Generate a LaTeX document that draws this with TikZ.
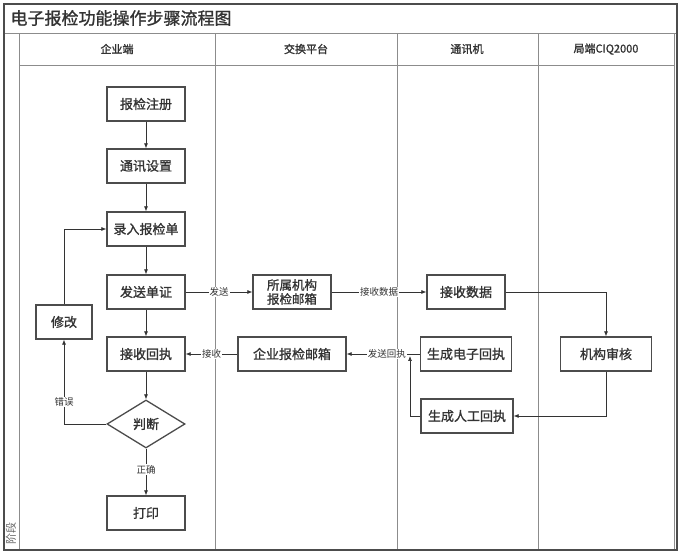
\documentclass[tikz,border=0pt]{standalone}
\usepackage{fontspec}
\setmainfont{Noto Sans CJK SC}[AutoFakeBold=1.2]
\usetikzlibrary{arrows.meta,shapes.geometric}
\tikzset{
    paso/.style={draw=black!70, line width=1.3pt, minimum width=78pt, minimum height=34pt,
        inner sep=1pt, align=center, font=\fontsize{13}{14}\selectfont\bfseries, text=black!80},
    decision/.style={diamond, draw=black!70, line width=1.3pt, minimum width=78pt,
        minimum height=48pt, inner sep=0pt, font=\fontsize{13}{14}\selectfont\bfseries, text=black!80},
    flecha/.style={draw=black!80, line width=0.7pt, -{Latex[length=5pt,width=4pt]}},
    etiqueta/.style={fill=white, inner sep=1pt, font=\fontsize{9.5}{10}\selectfont, text=black!80},
    cabecera/.style={font=\fontsize{11}{12}\selectfont\bfseries, text=black!80},
    carril/.style={draw=black!45, line width=1pt}
}
\begin{document}
\begin{tikzpicture}[x=1pt, y=-1pt]
    \useasboundingbox[fill=white] (0,0) rectangle (681,556);
    % Marco y carriles
    \draw[carril] (19,34) -- (19,549);
    \draw[carril] (215,34) -- (215,549);
    \draw[carril] (397,34) -- (397,549);
    \draw[carril] (538,34) -- (538,549);
    \draw[carril] (674,34) -- (674,549);
    \draw[carril] (4,34) -- (677,34);
    \draw[carril] (19,66) -- (674,66);
    \draw[draw=black!70, line width=1.5pt] (4,4) rectangle (677,550);
    % Titulo y cabeceras
    \node[anchor=west, font=\fontsize{17}{18}\selectfont\bfseries, text=black!80] (titulo) at (7,18) {电子报检功能操作步骤流程图};
    \node[cabecera] (cab1) at (117,49) {企业端};
    \node[cabecera] (cab2) at (306,49) {交换平台};
    \node[cabecera] (cab3) at (467,49) {通讯机};
    \node[cabecera] (cab4) at (606,49) {局端CIQ2000};
    \node[rotate=90, anchor=west, font=\fontsize{11}{12}\selectfont, text=black!60] (fase) at (11,548) {阶段};
    % Pasos del lado empresa
    \node[paso] (registro) at (146,104) {报检注册};
    \node[paso] (ajuste) at (146,166) {通讯设置};
    \node[paso] (entrada) at (146,229) {录入报检单};
    \node[paso] (envio) at (146,292) {发送单证};
    \node[paso, minimum width=56pt] (modificar) at (64,322) {修改};
    \node[paso] (recibo) at (146,354) {接收回执};
    \node[decision] (juicio) at (146,424) {判断};
    \node[paso] (imprimir) at (146,513) {打印};
    % Plataforma y comunicacion
    \node[paso, font=\fontsize{12.5}{14}\selectfont\bfseries] (buzon) at (292,292) {所属机构\\报检邮箱};
    \node[paso, minimum width=108pt] (buzonemp) at (292,354) {企业报检邮箱};
    \node[paso] (datos) at (466,292) {接收数据};
    \node[paso, minimum width=91pt] (electronico) at (466,354) {生成电子回执};
    \node[paso, minimum width=92pt] (manual) at (467,416) {生成人工回执};
    \node[paso, minimum width=91pt] (revision) at (606,354) {机构审核};
    \coordinate (union) at (410,356);
    % Flechas
    \draw[flecha] (registro) -- (ajuste);
    \draw[flecha] (ajuste) -- (entrada);
    \draw[flecha] (entrada) -- (envio);
    \draw[flecha] (envio) -- (recibo);
    \draw[flecha] (recibo) -- (juicio);
    \draw[flecha] (juicio) -- node[etiqueta, pos=0.45] {正确} (imprimir);
    \draw[flecha] (juicio.west) -| node[etiqueta, pos=0.63] {错误} (modificar.south);
    \draw[flecha] (modificar.north) |- (entrada.west);
    \draw[flecha] (envio) -- node[etiqueta] {发送} (buzon);
    \draw[flecha] (buzon) -- node[etiqueta] {接收数据} (datos);
    \draw[flecha] (datos.east) -| (revision.north);
    \draw[flecha] (revision.south) |- (manual.east);
    \draw[flecha] (manual.west) -| (union);
    \draw[flecha] (electronico) -- node[etiqueta, pos=0.45] {发送回执} (buzonemp);
    \draw[flecha] (buzonemp) -- node[etiqueta] {接收} (recibo);
\end{tikzpicture}
\end{document}
